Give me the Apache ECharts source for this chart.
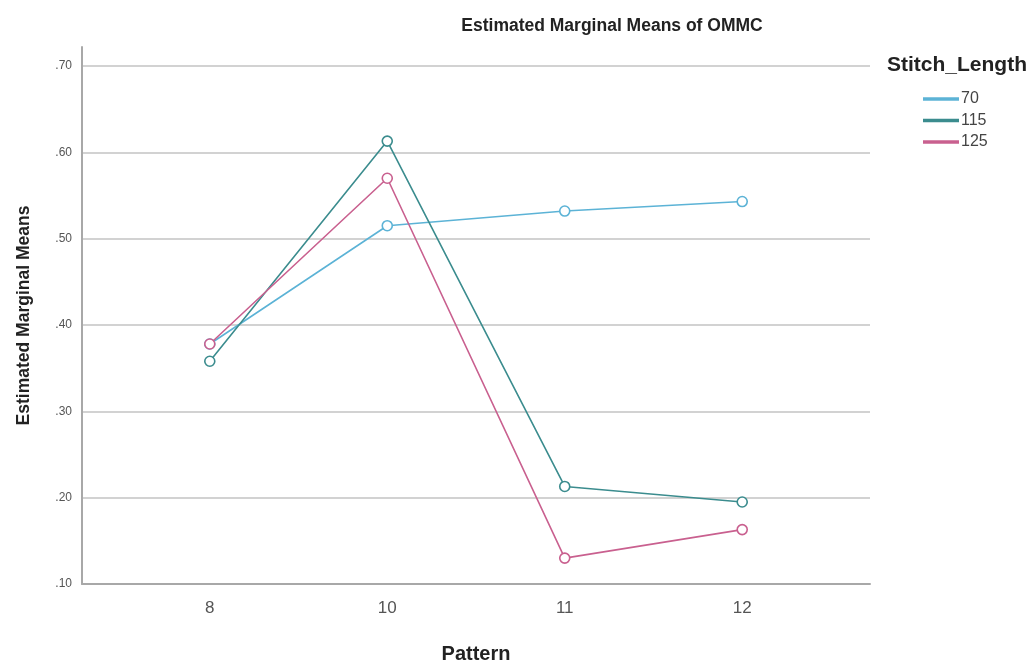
<!DOCTYPE html>
<html>
<head>
<meta charset="utf-8">
<script src="https://cdn.jsdelivr.net/npm/echarts@6/dist/echarts.min.js"></script>
<style>
html,body{margin:0;padding:0;background:#fff;}
#chart{width:1034px;height:665px;}
</style>
</head>
<body>
<div id="chart"></div>
<script>
const categories = ['8', '10', '11', '12'];
const seriesNames = ['70', '115', '125'];
const values70 = [0.378, 0.515, 0.532, 0.543];
const values115 = [0.358, 0.613, 0.213, 0.195];
const values125 = [0.378, 0.570, 0.130, 0.163];
const yTicks = [0.1, 0.2, 0.3, 0.4, 0.5, 0.6, 0.7];

const colors = ['#5cb3d6', '#3b8c8e', '#c9608f'];
const allValues = [values70, values115, values125];

const chart = echarts.init(document.getElementById('chart'));
const pair = arr => arr.map((v, i) => [i, v]);

chart.setOption({
  animation: false,
  backgroundColor: '#ffffff',
  title: [
    {
      text: 'Estimated Marginal Means of OMMC',
      left: 607, top: 12, textAlign: 'center',
      textStyle: {fontFamily: 'Liberation Sans, Arial', fontSize: 17.5, fontWeight: 'bold', color: '#222'}
    },
    {
      text: 'Stitch_Length',
      left: 882, top: 50,
      textStyle: {fontFamily: 'Liberation Sans, Arial', fontSize: 21, fontWeight: 'bold', color: '#222'}
    }
  ],
  legend: {
    orient: 'vertical',
    left: 918, top: 86,
    itemWidth: 34, itemHeight: 1.5, itemGap: 5.5,
    icon: 'rect',
    data: seriesNames,
    textStyle: {fontFamily: 'Liberation Sans, Arial', fontSize: 16, color: '#444', padding: [0, 0, 0, -2]}
  },
  grid: {left: 82, right: 164, top: 47, bottom: 81, containLabel: false, outerBoundsMode: 'none'},
  xAxis: {
    type: 'value',
    min: -0.72, max: 3.72,
    name: 'Pattern',
    nameLocation: 'middle',
    nameGap: 60,
    nameTextStyle: {fontFamily: 'Liberation Sans, Arial', fontSize: 20, fontWeight: 'bold', color: '#222'},
    axisLine: {show: true, onZero: false, lineStyle: {color: '#a8a8a8', width: 2}},
    axisTick: {show: false},
    splitLine: {show: false},
    axisLabel: {
      customValues: categories.map((c, i) => i),
      formatter: v => categories[Math.round(v)],
      fontFamily: 'Liberation Sans, Arial', fontSize: 17, color: '#555', margin: 16
    }
  },
  yAxis: {
    type: 'value',
    min: 0.1, max: 0.722, interval: 0.1,
    name: 'Estimated Marginal Means',
    nameLocation: 'middle',
    nameGap: 49,
    nameTextStyle: {fontFamily: 'Liberation Sans, Arial', fontSize: 17.5, fontWeight: 'bold', color: '#222'},
    axisLine: {show: true, onZero: false, lineStyle: {color: '#a8a8a8', width: 2}},
    axisTick: {show: false},
    splitLine: {show: true, showMinLine: true, showMaxLine: false, lineStyle: {color: '#d2d2d2', width: 2}},
    axisLabel: {
      customValues: yTicks,
      formatter: v => v.toFixed(2).replace(/^0/, ''),
      fontFamily: 'Liberation Sans, Arial', fontSize: 12, color: '#555', margin: 10
    }
  },
  series: seriesNames.map((name, k) => ({
    name: name,
    type: 'line',
    data: pair(allValues[k]),
    symbol: 'circle',
    symbolSize: 10,
    lineStyle: {color: colors[k], width: 1.6},
    itemStyle: {color: '#ffffff', borderColor: colors[k], borderWidth: 1.6},
    emphasis: {disabled: true}
  })),
  color: colors
});
</script>
</body>
</html>
